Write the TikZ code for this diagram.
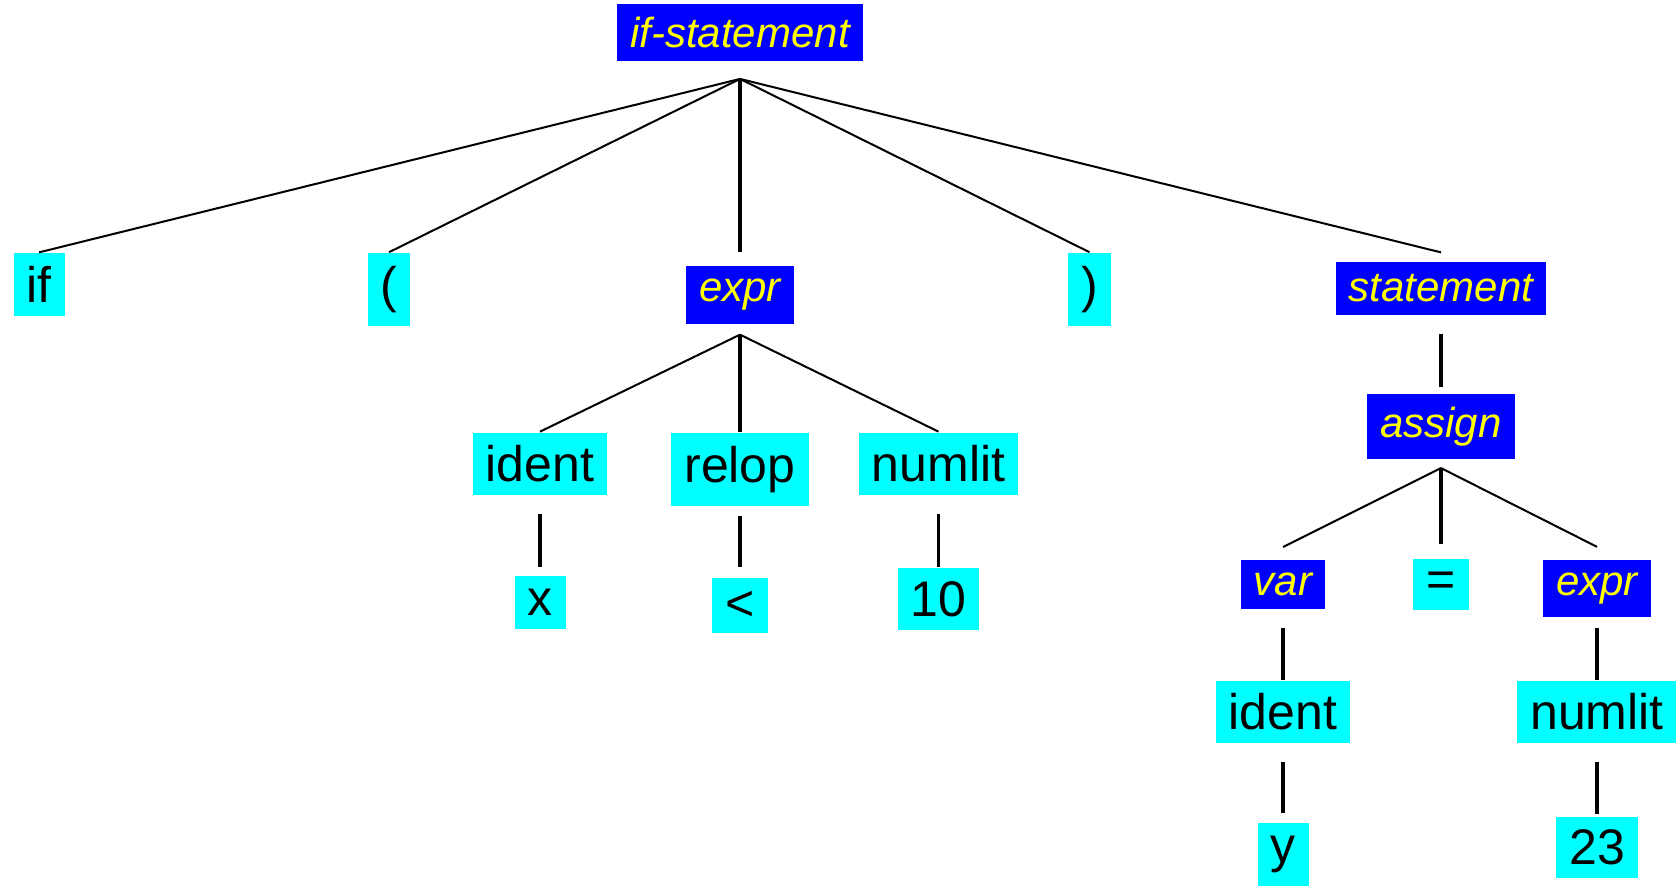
\documentclass[tikz,border=0pt]{standalone}
\usepackage{fontspec}
\setmainfont{Liberation Sans}
\definecolor{ntblue}{RGB}{0,0,255}
\definecolor{ntyellow}{RGB}{255,255,0}
\definecolor{tcyan}{RGB}{0,255,255}
\tikzset{  term/.style={fill=tcyan,inner sep=13pt,font=\fontsize{50}{60}\selectfont},
  nterm/.style={fill=ntblue,text=ntyellow,inner sep=13pt,font=\fontsize{42}{50}\selectfont\itshape},
  stem/.style={line width=3.2pt} }

\begin{document}
\begin{tikzpicture}[x=1pt,y=-1pt,line width=2pt]
  \useasboundingbox (0,0) rectangle (1676,886);
  \node[nterm] (ifst) at (740,32.5) {if-statement};
  \node[term] (if) at (39,284.5) {if};
  \node[term] (lp) at (389,289.5) {(};
  \node[nterm] (e1) at (740,295) {expr};
  \node[term] (rp) at (1089.5,289.5) {)};
  \node[nterm] (st) at (1441,288.5) {statement};
  \node[term] (id1) at (540,464) {ident};
  \node[term] (rel) at (740,469.5) {relop};
  \node[term] (num1) at (938.5,464) {numlit};
  \node[term] (xv) at (540,602.5) {x};
  \node[term] (lt) at (740,605.5) {<};
  \node[term] (ten) at (938.5,599) {10};
  \node[nterm] (asg) at (1441,426.5) {assign};
  \node[nterm] (var) at (1283,584.5) {var};
  \node[term,minimum height=47pt] (eq) at (1441,584.5) {=};
  \node[nterm] (e2) at (1597,588.5) {expr};
  \node[term] (id2) at (1283,712) {ident};
  \node[term] (num2) at (1597,712) {numlit};
  \node[term] (yv) at (1283,854.5) {y};
  \node[term] (n23) at (1597,847.5) {23};
  \coordinate (j0) at ([yshift=-17pt]ifst.south);
  \coordinate (j1) at ([yshift=-10pt]e1.south);
  \coordinate (j2) at ([yshift=-8pt]asg.south);
  \draw (j0) -- (if.north);
  \draw (j0) -- (lp.north);
  \draw[stem] (j0) -- (j0 |- if.north);
  \draw (j0) -- (rp.north);
  \draw (j0) -- (st.north |- if.north);
  \draw (j1) -- (id1.north);
  \draw[stem] (j1) -- (rel.north);
  \draw (j1) -- (num1.north);
  \draw[stem,shorten <=18pt,shorten >=8pt] (id1) -- (xv);
  \draw[stem,shorten <=9pt,shorten >=10pt] (rel) -- (lt);
  \draw[stem,shorten <=18pt] (num1) -- (ten);
  \draw[stem,shorten <=18pt,shorten >=6pt] (st) -- (asg);
  \draw (j2) -- ([yshift=12pt]var.north);
  \draw[stem] (j2) -- ([yshift=14pt]eq.north);
  \draw (j2) -- ([yshift=12pt]e2.north);
  \draw[stem,shorten <=18pt] (var) -- (id2);
  \draw[stem,shorten <=18pt,shorten >=9pt] (id2) -- (yv);
  \draw[stem,shorten <=10pt] (e2) -- (num2);
  \draw[stem,shorten <=18pt,shorten >=2pt] (num2) -- (n23);
\end{tikzpicture}
\end{document}
